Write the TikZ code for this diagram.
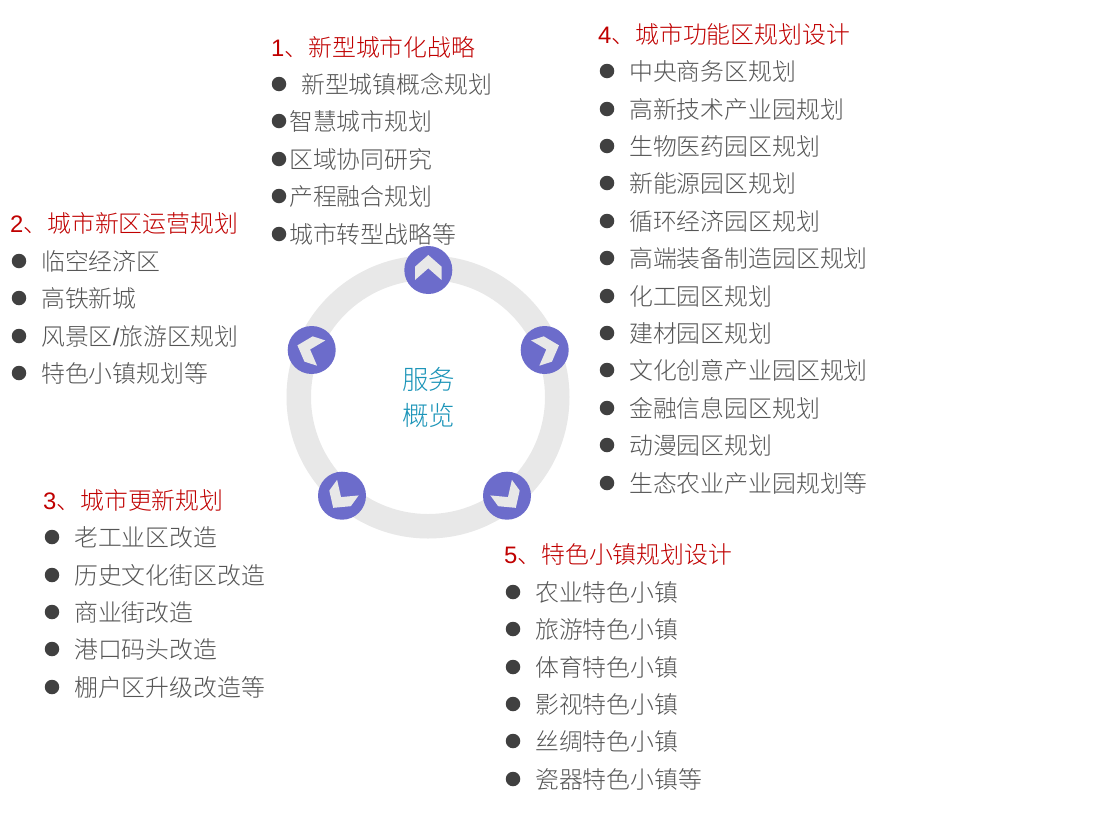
\documentclass[tikz,border=0pt]{standalone}
\usepackage{fontspec}
\setmainfont{Noto Sans CJK SC Light}
\newfontfamily\latf{Liberation Sans}
\definecolor{txt}{HTML}{555555}
\definecolor{ttl}{HTML}{C00000}
\definecolor{bul}{HTML}{404040}
\definecolor{ringc}{HTML}{E8E8E8}
\definecolor{disc}{HTML}{6C6CCB}
\definecolor{mid}{HTML}{1A94B8}
\tikzset{
 item/.style={anchor=base west,inner sep=0pt,text=txt,font=\fontsize{23.85}{24}\selectfont},
 ttlt/.style={anchor=base west,inner sep=0pt,text=ttl,font=\fontsize{23.85}{24}\selectfont},
 dot/.style={circle,fill=bul,inner sep=0pt,minimum size=14.5pt},
 hub/.style={circle,fill=disc,inner sep=0pt,minimum size=48pt},
 midt/.style={inner sep=0pt,text=mid,font=\fontsize{26.5}{27}\selectfont},
}
\newcommand{\lst}[4]{%
 \foreach \yy/\tt [count=\n] in {#4}{
  \node[dot] (#1d\n) at (#2,\yy) {};
  \node[item] (#1t\n) at (#3,\yy+9) {\tt};
 }}
\begin{document}
\begin{tikzpicture}[x=1pt,y=-1pt]
\useasboundingbox (0,0) rectangle (1120,833);
\fill[white] (0,0) rectangle (1120,833);
\fill[ringc,even odd rule] (428,397) circle[radius=141.5] (428,397) circle[radius=117];
\foreach \a/\nm/\hx/\hy in {0/a/428.3/270,288/b/544.7/350,216/c/507/495.7,144/d/342/495.7,72/e/311.7/350}{
 \node[hub] (hub\nm) at (\hx,\hy) {};
 \begin{scope}[shift={(\hx,\hy)},rotate=\a]
  \fill[ringc] (0,-15)--(13.3,-3.3)--(13.3,10)--(0,-1.7)--(-13.3,10)--(-13.3,-3.3)--cycle;
 \end{scope}
}
\node[midt] (m1) at (428.5,379) {服务};
\node[midt] (m2) at (428.5,415) {概览};
\node[ttlt] (t1) at (271,56) {{\latf 1}、新型城市化战略};
\node[dot] (ad1) at (279,84) {};
\node[item] (at1) at (301,93) {新型城镇概念规划};
\lst{a}{279}{289}{121/智慧城市规划,159/区域协同研究,196/产程融合规划,234/城市转型战略等}
\node[ttlt] (t2) at (10,232) {{\latf 2}、城市新区运营规划};
\lst{b}{19}{41}{261/临空经济区,298/高铁新城,336/风景区{\latf /}旅游区规划,373/特色小镇规划等}
\node[ttlt] (t3) at (43,509) {{\latf 3}、城市更新规划};
\lst{c}{52}{74}{537/老工业区改造,575/历史文化街区改造,612/商业街改造,649/港口码头改造,687/棚户区升级改造等}
\node[ttlt] (t4) at (598,43) {{\latf 4}、城市功能区规划设计};
\lst{d}{607}{629}{71/中央商务区规划,109/高新技术产业园规划,146/生物医药园区规划,183/新能源园区规划,221/循环经济园区规划,258/高端装备制造园区规划,296/化工园区规划,333/建材园区规划,370/文化创意产业园区规划,408/金融信息园区规划,445/动漫园区规划,483/生态农业产业园规划等}
\node[ttlt] (t5) at (504,563) {{\latf 5}、特色小镇规划设计};
\lst{e}{513}{535}{592/农业特色小镇,629/旅游特色小镇,667/体育特色小镇,704/影视特色小镇,741/丝绸特色小镇,779/瓷器特色小镇等}
\end{tikzpicture}
\end{document}
